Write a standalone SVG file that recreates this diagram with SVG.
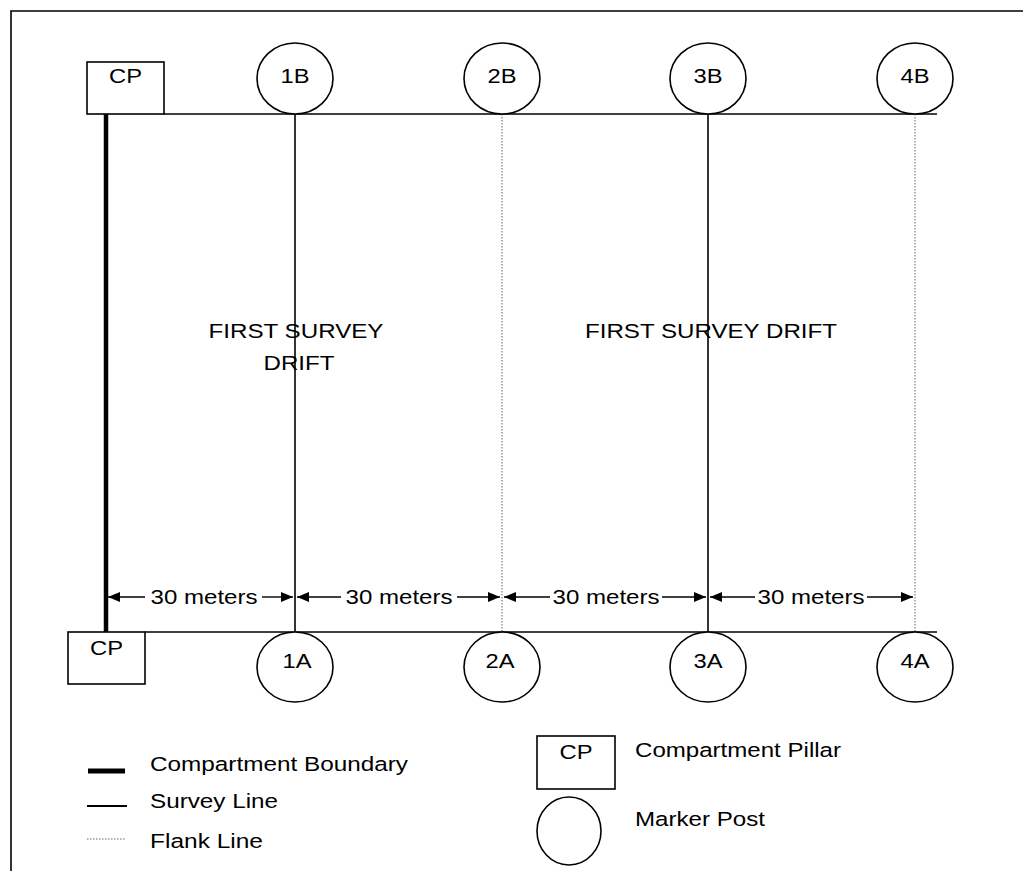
<svg xmlns="http://www.w3.org/2000/svg" width="1023" height="871" viewBox="0 0 1023 871">
<style>
text{font-family:"Liberation Sans",Arial,sans-serif;font-size:20.5px;fill:#000}
.m{text-anchor:middle}
.box{fill:#fff;stroke:#000;stroke-width:1.6}
.post{fill:#fff;stroke:#000;stroke-width:1.6}
.survey{stroke:#000;stroke-width:1.6;fill:none}
.flank{stroke:#666;stroke-width:1;stroke-dasharray:1.5 1.5;fill:none}
.bound{stroke:#000;stroke-width:4.5;fill:none}
.dim{stroke:#000;stroke-width:1.4;fill:none}
</style>
<defs>
<marker id="ah" viewBox="0 0 12 10" refX="12" refY="5" markerWidth="12" markerHeight="10" markerUnits="userSpaceOnUse" orient="auto-start-reverse">
<path d="M0,0 L12,5 L0,10 Z" fill="#000"/>
</marker>
</defs>
<rect width="1023" height="871" fill="#fff"/>
<path d="M11,871 V11 H1023" fill="none" stroke="#000" stroke-width="1.6"/>

<g id="connectors">
<line class="survey" x1="164" y1="114" x2="937" y2="114"/>
<line class="survey" x1="145" y1="632" x2="937" y2="632"/>
<line class="bound" x1="106" y1="114" x2="106" y2="632"/>
<line class="survey" x1="295" y1="114" x2="295" y2="632"/>
<line class="flank" x1="502" y1="114" x2="502" y2="632"/>
<line class="survey" x1="708" y1="114" x2="708" y2="632"/>
<line class="flank" x1="915" y1="114" x2="915" y2="632"/>
</g>

<g id="dimensions">
<line class="dim" x1="145" y1="597" x2="108" y2="597" marker-end="url(#ah)"/>
<line class="dim" x1="262" y1="597" x2="293" y2="597" marker-end="url(#ah)"/>
<text x="204" y="604" class="m" textLength="107" lengthAdjust="spacingAndGlyphs">30 meters</text>
<line class="dim" x1="341" y1="597" x2="297" y2="597" marker-end="url(#ah)"/>
<line class="dim" x1="457" y1="597" x2="500" y2="597" marker-end="url(#ah)"/>
<text x="399" y="604" class="m" textLength="107" lengthAdjust="spacingAndGlyphs">30 meters</text>
<line class="dim" x1="550" y1="597" x2="504" y2="597" marker-end="url(#ah)"/>
<line class="dim" x1="662" y1="597" x2="706" y2="597" marker-end="url(#ah)"/>
<text x="606" y="604" class="m" textLength="107" lengthAdjust="spacingAndGlyphs">30 meters</text>
<line class="dim" x1="755" y1="597" x2="710" y2="597" marker-end="url(#ah)"/>
<line class="dim" x1="867" y1="597" x2="913" y2="597" marker-end="url(#ah)"/>
<text x="811" y="604" class="m" textLength="107" lengthAdjust="spacingAndGlyphs">30 meters</text>
</g>

<g id="cp-top"><rect class="box" x="87" y="62" width="77" height="52"/><text x="125.5" y="83" class="m" textLength="33" lengthAdjust="spacingAndGlyphs">CP</text></g>
<g id="cp-bottom"><rect class="box" x="68" y="632" width="77" height="52"/><text x="106.5" y="655" class="m" textLength="33" lengthAdjust="spacingAndGlyphs">CP</text></g>

<g id="post-1B"><ellipse class="post" cx="295" cy="78.5" rx="38" ry="35.5"/><text x="295" y="83" class="m" textLength="29" lengthAdjust="spacingAndGlyphs">1B</text></g>
<g id="post-2B"><ellipse class="post" cx="502" cy="78.5" rx="38" ry="35.5"/><text x="502" y="83" class="m" textLength="29" lengthAdjust="spacingAndGlyphs">2B</text></g>
<g id="post-3B"><ellipse class="post" cx="708" cy="78.5" rx="38" ry="35.5"/><text x="708" y="83" class="m" textLength="29" lengthAdjust="spacingAndGlyphs">3B</text></g>
<g id="post-4B"><ellipse class="post" cx="915" cy="78.5" rx="38" ry="35.5"/><text x="915" y="83" class="m" textLength="29" lengthAdjust="spacingAndGlyphs">4B</text></g>

<g id="post-1A"><ellipse class="post" cx="295" cy="667" rx="38" ry="35"/><text x="297" y="668" class="m" textLength="29" lengthAdjust="spacingAndGlyphs">1A</text></g>
<g id="post-2A"><ellipse class="post" cx="502" cy="667" rx="38" ry="35"/><text x="500" y="668" class="m" textLength="29" lengthAdjust="spacingAndGlyphs">2A</text></g>
<g id="post-3A"><ellipse class="post" cx="708" cy="667" rx="38" ry="35"/><text x="708" y="668" class="m" textLength="29" lengthAdjust="spacingAndGlyphs">3A</text></g>
<g id="post-4A"><ellipse class="post" cx="915" cy="667" rx="38" ry="35"/><text x="915" y="668" class="m" textLength="29" lengthAdjust="spacingAndGlyphs">4A</text></g>

<g id="drift-1">
<text x="296" y="338" class="m" textLength="175" lengthAdjust="spacingAndGlyphs">FIRST SURVEY</text>
<text x="299" y="370" class="m" textLength="71" lengthAdjust="spacingAndGlyphs">DRIFT</text>
</g>
<g id="drift-2">
<text x="711" y="338" class="m" textLength="252" lengthAdjust="spacingAndGlyphs">FIRST SURVEY DRIFT</text>
</g>

<g id="legend">
<line x1="88" y1="771" x2="125" y2="771" stroke="#000" stroke-width="5"/>
<text x="150" y="771" textLength="258" lengthAdjust="spacingAndGlyphs">Compartment Boundary</text>
<line x1="87" y1="806" x2="127" y2="806" stroke="#000" stroke-width="1.8"/>
<text x="150" y="808" textLength="128" lengthAdjust="spacingAndGlyphs">Survey Line</text>
<line x1="87" y1="839" x2="125" y2="839" stroke="#666" stroke-width="1" stroke-dasharray="1.5 1.5"/>
<text x="150" y="848" textLength="113" lengthAdjust="spacingAndGlyphs">Flank Line</text>
<rect class="box" x="537" y="736" width="78" height="53"/>
<text x="576" y="759" class="m" textLength="33" lengthAdjust="spacingAndGlyphs">CP</text>
<text x="635" y="757" textLength="206" lengthAdjust="spacingAndGlyphs">Compartment Pillar</text>
<ellipse class="post" cx="569" cy="831" rx="32" ry="34"/>
<text x="635" y="826" textLength="130" lengthAdjust="spacingAndGlyphs">Marker Post</text>
</g>
</svg>
